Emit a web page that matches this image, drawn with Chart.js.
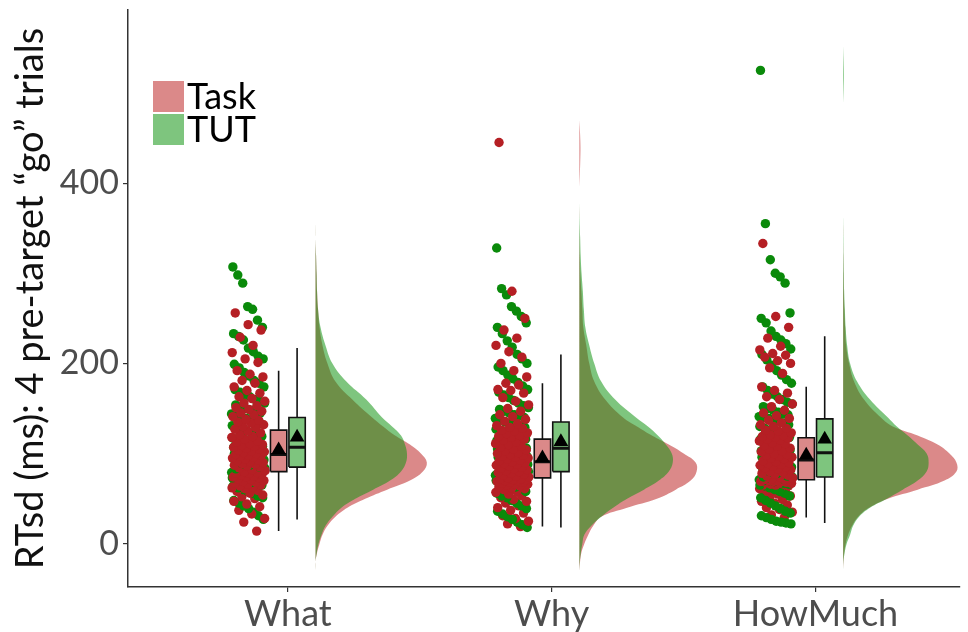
<!DOCTYPE html>
<html>
<head>
<meta charset="utf-8">
<script src="https://cdn.jsdelivr.net/npm/chart.js@4.4.0/dist/chart.umd.min.js"></script>
<style>
  html, body { margin: 0; padding: 0; background: #ffffff; }
  #wrap { width: 968px; height: 632px; }
</style>
</head>
<body>
<div id="wrap"><canvas id="chart" width="968" height="632"></canvas></div>
<script>
// ---- data ---------------------------------------------------------------
const categories = ['What', 'Why', 'HowMuch'];
const groups = ['Task', 'TUT'];
const yTicks = [0, 200, 400];
const yTitle = 'RTsd (ms): 4 pre-target \u201cgo\u201d trials';

// per-participant RTsd (ms), one value per participant
const whatTask = [14, 24, 33, 41, 47, 52, 56, 59, 62, 64, 66, 68, 70, 71, 73, 74, 75, 77, 78, 79,
  80, 81, 82, 84, 85, 86, 87, 88, 89, 90, 91, 92, 93, 94, 95, 96, 97, 98, 98, 99,
  100, 101, 102, 103, 104, 105, 106, 107, 108, 109, 110, 111, 113, 114, 116, 118, 119, 121, 123, 125,
  127, 129, 132, 135, 138, 141, 145, 149, 153, 158, 163, 170, 178, 185, 192, 201, 212, 237, 243, 256,
  28, 37, 44, 50, 54, 58, 61, 63, 65, 67, 69, 72, 74, 76, 78,
  130, 134, 137, 143, 147, 151, 156, 161, 167, 174, 181, 188, 205, 220, 229];
const whatTut = [27, 35, 42, 48, 53, 58, 62, 65, 68, 71, 73, 75, 77, 78, 79, 80, 81, 82, 83, 84,
  85, 86, 87, 88, 90, 91, 93, 94, 95, 96, 98, 99, 100, 101, 102, 103, 104, 105, 106, 107,
  108, 109, 111, 112, 114, 115, 117, 119, 121, 123, 125, 127, 129, 131, 133, 135, 137, 139, 140, 142,
  145, 148, 152, 156, 160, 165, 171, 178, 186, 195, 205, 217, 226, 233, 240, 260, 263, 289, 298, 307,
  31, 39, 45, 51, 56, 60, 64, 67, 70, 72, 74, 76, 79, 81, 83,
  144, 147, 150, 154, 158, 163, 168, 174, 181, 190, 199, 208, 213, 230, 248];
const whyTask = [19, 25, 31, 37, 42, 47, 51, 55, 58, 61, 63, 65, 66, 67, 68, 69, 70, 71, 72, 72,
  73, 74, 75, 76, 77, 78, 79, 80, 81, 82, 83, 84, 85, 86, 87, 88, 89, 90, 91, 92,
  93, 94, 95, 96, 97, 98, 99, 100, 101, 103, 104, 105, 107, 108, 110, 111, 113, 115, 116, 118,
  120, 123, 126, 129, 133, 138, 143, 150, 158, 167, 171, 178, 185, 200, 207, 220, 237, 250, 280, 445,
  22, 28, 34, 40, 45, 49, 53, 57, 60, 62, 64, 66, 68, 70, 71,
  119, 122, 125, 128, 131, 136, 141, 147, 154, 162, 170, 176, 192, 213, 228];
const whyTut = [18, 24, 30, 36, 42, 48, 53, 58, 63, 67, 70, 72, 74, 75, 76, 77, 78, 79, 79, 80,
  80, 81, 82, 84, 85, 87, 88, 90, 91, 93, 94, 95, 96, 97, 99, 100, 101, 102, 104, 105,
  106, 107, 108, 110, 111, 112, 114, 116, 117, 119, 121, 123, 125, 127, 129, 131, 133, 134, 135, 137,
  140, 143, 147, 151, 156, 162, 168, 175, 183, 192, 200, 210, 218, 233, 245, 252, 263, 276, 283, 328,
  21, 27, 33, 39, 45, 51, 56, 61, 65, 68, 71, 73, 75, 77, 78,
  139, 142, 145, 149, 153, 159, 165, 171, 179, 187, 196, 205, 225, 240, 258];
const howMuchTask = [29, 35, 40, 45, 49, 53, 56, 59, 62, 64, 65, 66, 67, 68, 69, 69, 70, 70, 71, 71,
  72, 73, 74, 75, 76, 77, 78, 79, 80, 82, 83, 84, 85, 86, 87, 88, 89, 90, 91, 92,
  94, 95, 96, 97, 98, 99, 100, 102, 103, 105, 106, 108, 109, 111, 112, 114, 115, 116, 117, 118,
  120, 123, 126, 130, 134, 139, 145, 152, 160, 167, 174, 189, 200, 207, 211, 215, 219, 228, 252, 333,
  32, 38, 43, 47, 51, 55, 58, 61, 63, 65, 66, 67, 68, 69, 70,
  119, 121, 125, 128, 132, 137, 142, 148, 155, 163, 170, 195, 203, 209, 240];
const howMuchTut = [22, 24, 27, 31, 36, 42, 48, 53, 58, 62, 65, 67, 69, 70, 71, 72, 73, 73, 74, 74,
  75, 76, 78, 79, 81, 83, 85, 87, 89, 91, 93, 94, 96, 97, 98, 99, 100, 101, 102, 103,
  104, 106, 108, 110, 112, 114, 116, 118, 120, 122, 124, 126, 128, 130, 132, 134, 136, 138, 139, 141,
  144, 148, 152, 157, 163, 170, 178, 187, 198, 210, 222, 230, 245, 250, 256, 289, 300, 315, 355, 525,
  23, 25, 29, 34, 39, 45, 51, 56, 60, 64, 66, 68, 70, 72, 73,
  140, 143, 146, 150, 155, 160, 166, 174, 182, 192, 204, 216, 226, 236, 296];

// box-plot summaries, one entry per category (What, Why, HowMuch)
const taskLowerWhisker = [14, 19, 29];
const taskQ1 = [80, 73, 71];
const taskMedian = [99, 91, 93];
const taskQ3 = [126, 116, 117.5];
const taskUpperWhisker = [192, 178, 174];
const taskMean = [104, 95, 98];
const tutLowerWhisker = [27, 18, 23];
const tutQ1 = [85, 80, 74];
const tutMedian = [107, 106, 101];
const tutQ3 = [140, 135, 138.5];
const tutUpperWhisker = [217, 210, 230];
const tutMean = [118, 113, 116];

// kernel density (relative units) evaluated on a shared RTsd grid
const densityGrid = [-30, -20, -10, 0, 10, 20, 30, 40, 50, 60, 70, 80, 90, 100, 110, 120, 130, 140,
  160, 180, 200, 220, 240, 260, 280, 300, 320, 340, 360, 380];
const whatTaskDensity = [0, 0, 1.5, 4, 7, 12, 20, 32, 50, 72, 95, 108, 112, 106, 95, 80, 68, 57,
  37, 20, 12, 7, 4, 2.5, 1.5, 1, 0.5, 0, 0, 0];
const whatTutDensity = [0, 0, 1.2, 3, 6, 10, 17, 26, 40, 58, 75, 86, 91, 92, 90, 86, 77, 67,
  51, 31, 17, 10, 5, 2.5, 1.5, 1, 0.5, 0, 0, 0];
const whyTaskDensity = [0, 0.7, 2, 5, 9, 14, 22, 48, 78, 97, 112, 118, 117, 105, 90, 73, 58, 44,
  26, 15, 10, 7, 4, 3, 2, 1, 0.5, 0.2, 0, 0];
const whyTutDensity = [0, 0.5, 1.5, 3, 5, 12, 22, 34, 48, 65, 80, 90, 94, 93, 87, 79, 69, 57,
  36, 22, 15, 10, 6, 4.5, 3.5, 2.2, 1.3, 0.8, 0.3, 0];
const howMuchTaskDensity = [0, 0.3, 1, 2.5, 5, 9, 15, 26, 45, 75, 102, 114, 114, 107, 95, 75, 50, 38,
  21, 11, 6, 3, 2, 1.2, 0.7, 0.4, 0.2, 0, 0, 0];
const howMuchTutDensity = [0, 0.3, 1.5, 3.5, 7, 10, 16, 27, 44, 60, 75, 84, 86, 84, 75, 65, 54, 45,
  27, 14, 7, 4, 2.5, 1.7, 1, 0.7, 0.4, 0.3, 0.1, 0];
// isolated density bumps around single extreme values
const whyTaskTailGrid = [395, 410, 425, 440, 455, 470];
const whyTaskTailDensity = [0, 0.5, 0.9, 1.1, 0.7, 0];
const howMuchTutTailGrid = [488, 505, 520, 535, 552];
const howMuchTutTailDensity = [0, 0.5, 0.8, 0.5, 0];

// ---- styling / layout ---------------------------------------------------
const FONT = 'Lato';
const taskPoint = '#b51f24';
const tutPoint = '#0a8a0a';
const taskFill = 'rgba(190,40,40,0.55)';
const tutFill = 'rgba(20,150,20,0.55)';
const axisColor = '#333333';

const xMin = 0.394, xMax = 3.546;
const yMin = -48, yMax = 592;
const jitterCenter = -0.15;   // rain sits left of the category
const jitterHalf = 0.064;
const boxShift = 0.035;       // dodge of the two boxes
const boxHalf = 0.031;
const violinOffset = 0.105;   // cloud starts right of the category
const violinScale = 1 / 265.5;

const raw = [
  { task: whatTask, tut: whatTut },
  { task: whyTask, tut: whyTut },
  { task: howMuchTask, tut: howMuchTut }
];
const dens = [
  { task: whatTaskDensity, tut: whatTutDensity },
  { task: whyTaskDensity, tut: whyTutDensity },
  { task: howMuchTaskDensity, tut: howMuchTutDensity }
];
const box = {
  Task: { lo: taskLowerWhisker, q1: taskQ1, med: taskMedian, q3: taskQ3, hi: taskUpperWhisker, mean: taskMean },
  TUT: { lo: tutLowerWhisker, q1: tutQ1, med: tutMedian, q3: tutQ3, hi: tutUpperWhisker, mean: tutMean }
};

function spread(i, seed) {
  const f = ((i + 1) * 0.6180339887 + seed) % 1;
  return (f - 0.5) * 2 * jitterHalf;
}

// TUT clouds get a lower order so they are painted over the Task clouds
function cloud(ci, grid, values, color, order) {
  const x0 = ci + 1 + violinOffset;
  return {
    data: grid.map((v, i) => ({ x: x0 + values[i] * violinScale, y: v })),
    showLine: true, fill: 'shape', backgroundColor: color, borderWidth: 0,
    pointRadius: 0, tension: 0.4, order
  };
}

const datasets = [];

// half-violins
dens.forEach((d, ci) => {
  datasets.push(cloud(ci, densityGrid, d.task, taskFill, 42));
  datasets.push(cloud(ci, densityGrid, d.tut, tutFill, 41));
});
datasets.push(cloud(1, whyTaskTailGrid, whyTaskTailDensity, taskFill, 42));
datasets.push(cloud(2, howMuchTutTailGrid, howMuchTutTailDensity, tutFill, 41));

// jittered raw points (both groups interleaved, sorted so neighbours spread sideways)
raw.forEach((r, ci) => {
  const task = [...r.task].sort((a, b) => a - b);
  const tut = [...r.tut].sort((a, b) => a - b);
  const pts = [], cols = [];
  const n = Math.max(task.length, tut.length);
  for (let i = 0; i < n; i++) {
    if (i < task.length) { pts.push({ x: ci + 1 + jitterCenter + spread(i, 0.13), y: task[i] }); cols.push(taskPoint); }
    if (i < tut.length) { pts.push({ x: ci + 1 + jitterCenter + spread(i * 3 + 1, 0.71), y: tut[i] }); cols.push(tutPoint); }
  }
  datasets.push({
    data: pts, pointRadius: 4.7, pointBackgroundColor: cols, pointBorderWidth: 0,
    showLine: false, order: 30
  });
});

// box plots
groups.forEach((g, gi) => {
  const s = box[g];
  const fillCol = gi === 0 ? taskFill : tutFill;
  categories.forEach((c, ci) => {
    const xc = ci + 1 + (gi === 0 ? -boxShift : boxShift);
    datasets.push({
      data: [{ x: xc, y: s.lo[ci] }, { x: xc, y: s.q1[ci] }, { x: xc, y: null }, { x: xc, y: s.q3[ci] }, { x: xc, y: s.hi[ci] }],
      showLine: true, spanGaps: false, borderColor: '#111', borderWidth: 1.6, pointRadius: 0, fill: false, order: 22
    });
    datasets.push({
      data: [{ x: xc - boxHalf, y: s.q1[ci] }, { x: xc + boxHalf, y: s.q1[ci] }, { x: xc + boxHalf, y: s.q3[ci] },
             { x: xc - boxHalf, y: s.q3[ci] }, { x: xc - boxHalf, y: s.q1[ci] }],
      showLine: true, borderColor: '#111', borderWidth: 1.6, backgroundColor: fillCol, fill: 'shape',
      pointRadius: 0, tension: 0, order: 20
    });
    datasets.push({
      data: [{ x: xc - boxHalf, y: s.med[ci] }, { x: xc + boxHalf, y: s.med[ci] }],
      showLine: true, borderColor: '#111', borderWidth: 3, pointRadius: 0, fill: false, order: 18
    });
  });
  datasets.push({
    data: categories.map((c, ci) => ({ x: ci + 1 + (gi === 0 ? -boxShift : boxShift), y: s.mean[ci] })),
    pointStyle: 'triangle', pointRadius: 8.5, pointBackgroundColor: '#000', pointBorderWidth: 0,
    showLine: false, order: 1
  });
});

// legend inside the panel, top-left
const legendInPanel = {
  id: 'legendInPanel',
  afterDatasetsDraw(chart) {
    const { ctx, chartArea } = chart;
    const x = chartArea.left + 25, y = chartArea.top + 71, sz = 31, gap = 2;
    ctx.save();
    [taskFill, tutFill].forEach((col, i) => {
      ctx.fillStyle = '#ffffff';
      ctx.fillRect(x, y + i * (sz + gap), sz, sz);
      ctx.fillStyle = col;
      ctx.fillRect(x, y + i * (sz + gap), sz, sz);
    });
    ctx.fillStyle = '#000';
    ctx.font = '36px ' + FONT;
    ctx.textBaseline = 'middle';
    ctx.textAlign = 'left';
    groups.forEach((g, i) => ctx.fillText(g, x + sz + 3, y + i * (sz + gap) + sz / 2 + 1));
    ctx.restore();
  }
};

Chart.defaults.font.family = FONT;

new Chart(document.getElementById('chart'), {
  type: 'scatter',
  data: { datasets },
  options: {
    responsive: false,
    animation: false,
    devicePixelRatio: 1,
    layout: { padding: { left: 0, right: 3, top: 10, bottom: 0 } },
    plugins: { legend: { display: false }, tooltip: { enabled: false } },
    scales: {
      x: {
        type: 'linear', min: xMin, max: xMax,
        afterBuildTicks: s => { s.ticks = categories.map((c, i) => ({ value: i + 1 })); },
        afterFit: s => { s.height = 45; s.paddingLeft = 0; s.paddingRight = 0; },
        ticks: {
          callback: v => categories[v - 1] || '',
          font: { family: FONT, size: 36 }, color: '#4d4d4d', padding: 1,
          maxRotation: 0, autoSkip: false
        },
        grid: { display: true, drawOnChartArea: false, drawTicks: true, tickLength: 5, color: axisColor, lineWidth: 1.2 },
        border: { display: true, color: axisColor, width: 1.5 }
      },
      y: {
        type: 'linear', min: yMin, max: yMax,
        afterBuildTicks: s => { s.ticks = yTicks.map(v => ({ value: v })); },
        afterFit: s => { s.width = 128; s.paddingTop = 0; s.paddingBottom = 0; },
        ticks: { font: { family: FONT, size: 34 }, color: '#4d4d4d', padding: 4 },
        grid: { display: true, drawOnChartArea: false, drawTicks: true, tickLength: 5, color: axisColor, lineWidth: 1.2 },
        border: { display: true, color: axisColor, width: 1.5 },
        title: { display: true, text: yTitle, font: { family: FONT, size: 38 }, color: '#111', padding: { top: 8, bottom: 0 } }
      }
    }
  },
  plugins: [legendInPanel]
});
</script>
</body>
</html>
